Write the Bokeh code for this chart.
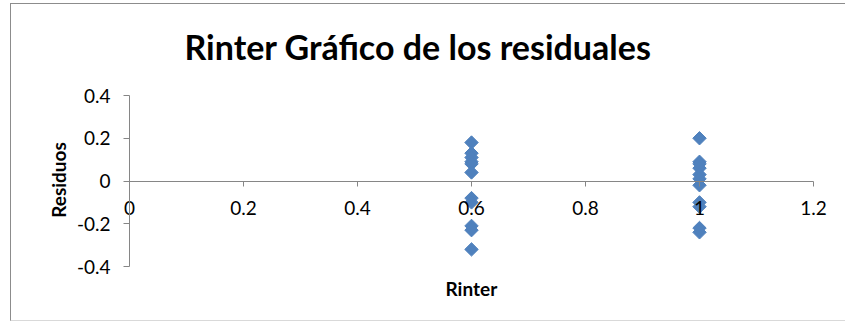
import numpy as np
from bokeh.plotting import figure
from bokeh.models import Range1d, FixedTicker, Title, ColumnDataSource
from bokeh.embed import file_html
from bokeh.resources import INLINE

# Residuals grouped by Rinter level
rinter_06 = [0.6] * 11
resid_06 = [0.18, 0.13, 0.11, 0.09, 0.08, 0.04, -0.08, -0.10, -0.21, -0.23, -0.32]
rinter_10 = [1.0] * 11
resid_10 = [0.20, 0.09, 0.08, 0.06, 0.03, 0.01, -0.02, -0.10, -0.12, -0.22, -0.24]

x_ticks = [0, 0.2, 0.4, 0.6, 0.8, 1.0, 1.2]
x_tick_labels = ["0", "0.2", "0.4", "0.6", "0.8", "1", "1.2"]
y_ticks = [-0.4, -0.2, 0, 0.2, 0.4]
y_tick_labels = ["-0.4", "-0.2", "0", "0.2", "0.4"]

FONT = "Lato"
AXIS_GRAY = "#868686"
SERIES_BLUE = "#4F81BD"

source = ColumnDataSource(dict(
    x=rinter_06 + rinter_10,
    y=resid_06 + resid_10,
))

# The frame is a little wider than the axes so that the tick labels of the
# crossing axes are not clipped; axis bounds keep the lines at 0..1.2 / -0.4..0.4.
p = figure(
    width=835, height=318,
    x_range=Range1d(-0.1035, 1.2298), y_range=Range1d(-0.4374, 0.4468),
    output_backend="svg", toolbar_location=None,
    min_border_left=59, min_border_right=16,
    min_border_top=81, min_border_bottom=48,
    title="Rinter Gráfico de los residuales",
)
p.margin = (3, 0, 0, 10)
p.styles = {
    "border-left": "1px solid #8c8c8c",
    "border-top": "1px solid #8c8c8c",
    "border-bottom": "1px solid #d9d9d9",
}
p.outline_line_color = None
p.background_fill_color = "white"
p.border_fill_color = "white"
p.xgrid.grid_line_color = None
p.ygrid.grid_line_color = None

p.title.text_font = FONT
p.title.text_font_size = "34px"
p.title.text_font_style = "bold"
p.title.text_color = "black"
p.title.align = "left"
p.title.offset = 114
p.title.standoff = 37

# both axes cross at zero
xa = p.xaxis[0]
xa.fixed_location = 0
xa.bounds = (0, 1.2)
xa.ticker = FixedTicker(ticks=x_ticks)
xa.major_label_overrides = {t: s for t, s in zip(x_ticks, x_tick_labels)}
xa.major_tick_in = 0
xa.major_tick_out = 5
xa.major_label_standoff = 15

ya = p.yaxis[0]
ya.fixed_location = 0
ya.bounds = (-0.4, 0.4)
ya.ticker = FixedTicker(ticks=y_ticks)
ya.major_label_overrides = {t: s for t, s in zip(y_ticks, y_tick_labels)}
ya.major_tick_in = 0
ya.major_tick_out = 6
ya.major_label_standoff = 13

for ax in (xa, ya):
    ax.minor_tick_line_color = None
    ax.axis_line_color = AXIS_GRAY
    ax.major_tick_line_color = AXIS_GRAY
    ax.major_label_text_font = FONT
    ax.major_label_text_font_size = "19px"
    ax.major_label_text_color = "black"

p.add_layout(Title(text="Residuos", align="center", text_font=FONT,
                   text_font_size="19px", text_font_style="bold",
                   text_color="black", standoff=2), "left")
p.add_layout(Title(text="Rinter", align="left", offset=375, text_font=FONT,
                   text_font_size="19px", text_font_style="bold",
                   text_color="black", standoff=0), "below")

p.scatter("x", "y", source=source, marker="square", angle=np.pi / 4,
          size=9.5, fill_color=SERIES_BLUE, line_color=SERIES_BLUE)

open("out.html", "w").write(file_html(p, INLINE))
